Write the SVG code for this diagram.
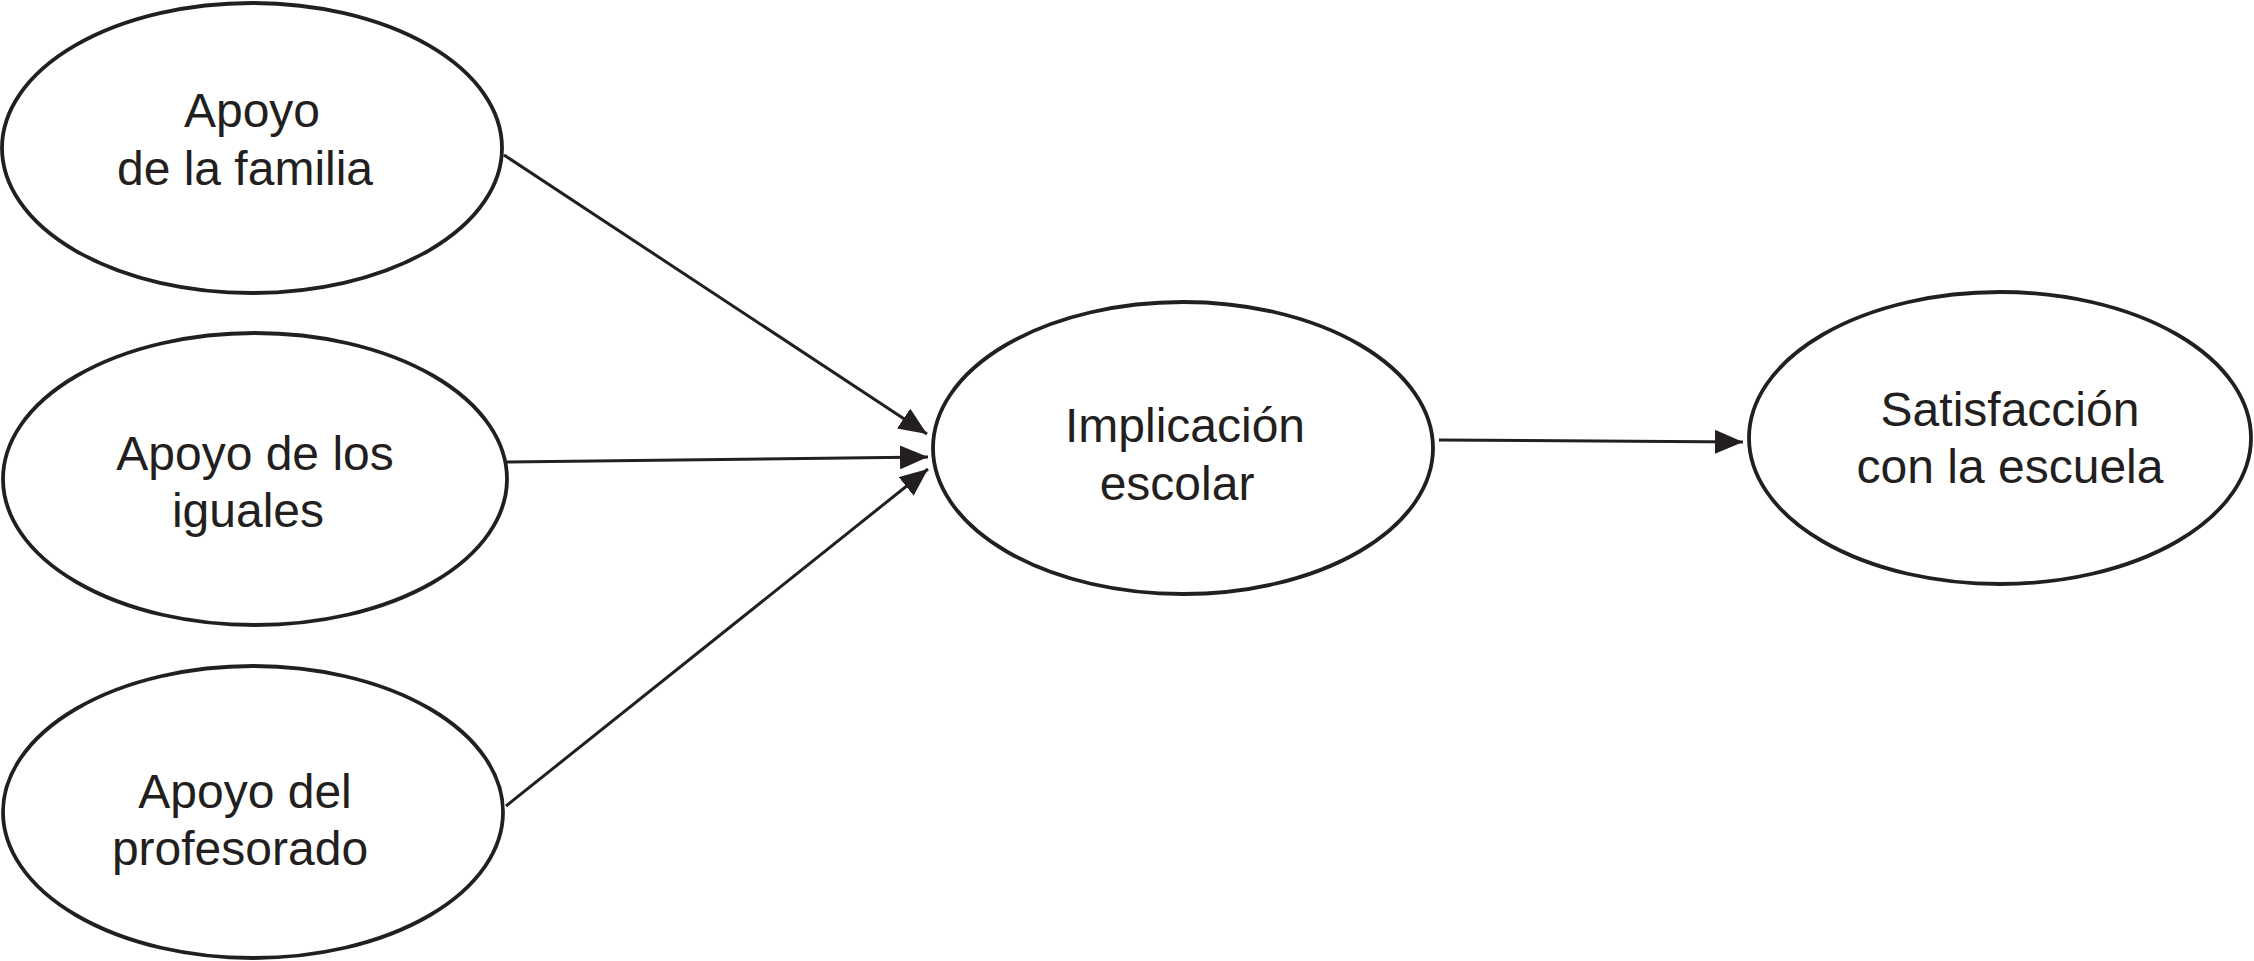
<svg xmlns="http://www.w3.org/2000/svg" width="2254" height="961" viewBox="0 0 2254 961">
<style>
.node ellipse{fill:#fff;stroke:#231f20;stroke-width:3.8}
.node text{font-family:"Liberation Sans",Arial,sans-serif;font-size:48px;fill:#231f20;text-anchor:middle}
.edge{stroke:#231f20;stroke-width:3;fill:none;marker-end:url(#arr)}
</style>
<defs>
<marker id="arr" markerUnits="userSpaceOnUse" markerWidth="28" markerHeight="24" refX="28" refY="12" orient="auto">
<path d="M0,0 L28,12 L0,24 z" fill="#231f20"/>
</marker>
</defs>
<rect width="2254" height="961" fill="#fff"/>
<g id="connectors">
<line class="edge" x1="504" y1="155" x2="927" y2="434"/>
<line class="edge" x1="506" y1="462" x2="928" y2="457"/>
<line class="edge" x1="506" y1="806" x2="928" y2="469"/>
<line class="edge" x1="1439" y1="440" x2="1743" y2="442"/>
</g>
<g id="familia" class="node">
<ellipse cx="252" cy="148" rx="250" ry="145"/>
<text x="252" y="127">Apoyo</text>
<text x="245" y="185">de la familia</text>
</g>
<g id="iguales" class="node">
<ellipse cx="255" cy="479" rx="252" ry="146"/>
<text x="255" y="470">Apoyo de los</text>
<text x="248" y="527">iguales</text>
</g>
<g id="profesorado" class="node">
<ellipse cx="253" cy="812" rx="250" ry="146"/>
<text x="245" y="808">Apoyo del</text>
<text x="240" y="865">profesorado</text>
</g>
<g id="implicacion" class="node">
<ellipse cx="1183" cy="448" rx="250" ry="146"/>
<text x="1185" y="442">Implicación</text>
<text x="1177" y="500">escolar</text>
</g>
<g id="satisfaccion" class="node">
<ellipse cx="2000" cy="438" rx="251" ry="146"/>
<text x="2010" y="426">Satisfacción</text>
<text x="2010" y="483">con la escuela</text>
</g>
</svg>
